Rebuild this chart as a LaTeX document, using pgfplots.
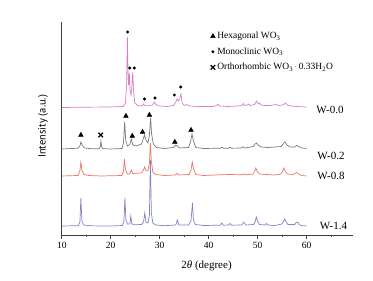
\documentclass[border=0pt]{standalone}
\usepackage{pgfplots}
\pgfplotsset{compat=1.18}
\usepackage{fontspec}
\setmainfont{Liberation Serif}
\newfontfamily\ptsans{PT Sans}
\definecolor{cpink}{RGB}{214,128,196}
\definecolor{cgrey}{RGB}{122,122,122}
\definecolor{cred}{RGB}{240,116,98}
\definecolor{cblue}{RGB}{130,130,200}
\begin{document}
\begin{tikzpicture}
\path[use as bounding box] (0,0) rectangle (373pt,281pt);
\begin{axis}[
  at={(61.8pt,46pt)}, anchor=south west,
  scale only axis, width=291.2pt, height=213pt,
  xmin=10, xmax=69.5, ymin=0, ymax=213,
  axis lines=left, axis line style={-, line width=0.8pt, black!75},
  ytick=\empty,
  xtick={10,20,30,40,50,60},
  minor xtick={15,25,35,45,55,65},
  tick align=outside,
  major tick length=4pt, minor tick length=2.5pt,
  tick style={black!75, line width=0.7pt},
  /pgf/number format/assume math mode=true,
  ticklabel style={font=\fontsize{9.5}{10}\selectfont},
  xlabel={2\textit{θ} (degree)},
  xlabel style={font=\fontsize{11}{12}\selectfont, at={(axis description cs:0.497,-0.146)}, anchor=center},
  ylabel={\ptsans Intensity (a.u.)},
  ylabel style={font=\fontsize{10.5}{12}\selectfont, at={(axis description cs:-0.064,0.51)}, anchor=center},
  clip=false,
  legend cell align={left},
  legend style={draw=none, fill=none, at={(axis description cs:0.50,0.972)}, anchor=north west,
    font=\fontsize{9.5}{10}\selectfont, row sep=3.5pt},
]
% W-1.4
\addplot[cblue, line width=0.7pt, forget plot] coordinates {
(10,9) (13.4,9.3) (13.7,13) (13.9,37) (14.1,15) (14.4,10) (16,9.2) (18,9) (20,9) (22.4,9.5) (22.7,14) (22.9,37) (23.1,15) (23.4,11) (23.9,11) (24.1,19) (24.3,11.5) (24.6,10.2) (26.3,10.5) (26.7,13) (26.95,22) (27.2,13) (27.6,12) (27.9,20) (28.1,75) (28.3,22) (28.6,12) (29.2,10) (31,9.3) (33.3,10) (33.6,15) (33.9,10) (35.9,10) (36.4,14) (36.7,32) (36.9,15) (37.3,10.5) (39,9.5) (42.4,9.8) (42.7,12) (43,9.8) (44.1,10) (44.4,11.5) (44.7,9.8) (46.8,10) (47.2,13) (47.6,10) (49.2,10.5) (49.55,14) (49.75,18) (50,14) (50.4,10.5) (51.5,10) (51.8,11.5) (52.1,10) (53.5,9.5) (55,11) (55.35,14) (55.55,16) (55.8,13.5) (56.2,10.5) (57.6,10.5) (57.9,12.5) (58.2,13) (58.5,10.5) (59,9.5) (60,9)
};
% W-0.8
\addplot[cred, line width=0.7pt, forget plot] coordinates {
(10,59) (13.3,59.5) (13.7,64) (13.9,73) (14.1,65) (14.5,60.5) (15.5,59.5) (18,59) (22.3,59.5) (22.6,64) (22.8,76) (23.0,66) (23.4,61) (23.9,61) (24.2,65) (24.5,61.5) (26.3,62) (26.7,65) (26.9,68) (27.2,64.5) (27.6,64) (27.9,72) (28.1,92) (28.3,74) (28.6,63) (29.2,60.5) (31,59.5) (33.2,60) (33.55,61.8) (33.9,60) (36.0,60.5) (36.4,65) (36.65,73) (36.9,66) (37.4,60.5) (39,59.5) (42.7,60.3) (44.4,60.5) (46.9,60.2) (47.2,61) (47.5,60.2) (49.1,61) (49.45,64) (49.65,67) (49.95,63.5) (50.4,61) (51.8,60.5) (53.5,60) (54.8,61) (55.15,64) (55.35,67) (55.65,63.5) (56.1,61) (57.3,60.5) (57.8,62) (58.05,62.5) (58.4,61) (59,59.5) (60,59)
};
% W-0.2
\addplot[cgrey, line width=0.7pt, forget plot] coordinates {
(10,86) (13.3,86.8) (13.7,89) (13.9,93) (14.2,89.5) (14.6,87) (16,86.3) (17.6,86.2) (17.85,88) (18.0,94) (18.15,88) (18.4,86.3) (20,86) (22.3,86.5) (22.6,92) (22.85,113) (23.05,95) (23.4,89) (23.9,90.5) (24.2,96) (24.5,90) (25.2,89) (26.3,91) (26.7,97) (26.9,100) (27.2,95) (27.6,92) (27.9,100) (28.15,117) (28.35,101) (28.7,91) (29.3,87.5) (31,86.5) (32.8,87.5) (33.3,90) (33.6,89) (34,87) (35.9,87.5) (36.3,93) (36.6,101) (36.9,94) (37.4,87.5) (39,86.5) (42.4,86.8) (42.7,87.8) (43,86.8) (44.1,86.8) (44.4,87.8) (44.7,86.8) (46.7,87) (47,88.3) (47.4,87) (49.1,88.5) (49.5,91) (49.8,92) (50.2,89.5) (50.8,88) (52,87.5) (53,87.8) (54.8,88.5) (55.3,91.5) (55.6,93) (56,90) (56.6,88) (57.6,88) (58,89.5) (58.4,88.5) (59,87) (60,86.5)
};
% W-0.0
\addplot[cpink, line width=0.7pt, forget plot] coordinates {
(10,127.5) (15,127.8) (20,128) (22.6,128.5) (23.0,132) (23.25,150) (23.4,198) (23.55,160) (23.65,150) (23.8,162) (23.95,145) (24.15,140) (24.35,150) (24.5,163) (24.65,145) (24.9,132) (25.5,129.5) (26.4,129) (26.7,131) (26.9,129.5) (27.5,129) (28.5,130) (28.9,133) (29.2,130.5) (30,129) (31.5,128.5) (32.8,129.5) (33.3,133) (33.55,136) (33.8,134) (34.1,136) (34.35,141) (34.6,132) (35,129.5) (35.5,130.5) (36,129) (38,128.5) (41,128.5) (41.6,129.5) (41.9,131) (42.2,129) (44,128.5) (46,129) (46.8,129.5) (47.1,131.5) (47.4,129.5) (47.9,130) (48.2,131) (48.5,129.5) (49.4,130.5) (49.8,134) (50.1,131) (50.4,132) (50.7,130) (51.5,129.5) (52.5,129.5) (53.2,130) (53.8,130.5) (54.2,129.5) (55.2,130) (55.7,132) (56.1,130) (56.8,129) (58,128.5) (60,128)
};
% markers
\addplot[only marks, mark=triangle*, mark size=2.7pt, black] coordinates {
(13.9,100) (23.1,119) (24.4,99) (26.5,103) (27.9,120) (33.1,93) (36.4,105)
};
\addlegendentry{Hexagonal WO\textsubscript{3}}
\addplot[only marks, mark=*, mark size=1.3pt, black] coordinates {
(23.45,203) (23.9,167) (24.8,167) (26.9,136) (29.05,137) (33.0,140) (34.3,148)
};
\addlegendentry{Monoclinic WO\textsubscript{3}}
\addplot[only marks, mark=x, mark size=3.2pt, black, line width=1.3pt] coordinates {
(17.95,100)
};
\addlegendentry{Orthorhombic WO\textsubscript{3}\,$\cdot$\,0.33H\textsubscript{2}O}
\node[anchor=west, font=\fontsize{11}{12}\selectfont] at (axis cs:61.3,125) {W-0.0};
\node[anchor=west, font=\fontsize{11}{12}\selectfont] at (axis cs:61.5,79) {W-0.2};
\node[anchor=west, font=\fontsize{11}{12}\selectfont] at (axis cs:61.5,59) {W-0.8};
\node[anchor=west, font=\fontsize{11}{12}\selectfont] at (axis cs:62.0,9) {W-1.4};
\end{axis}
\end{tikzpicture}
\end{document}
